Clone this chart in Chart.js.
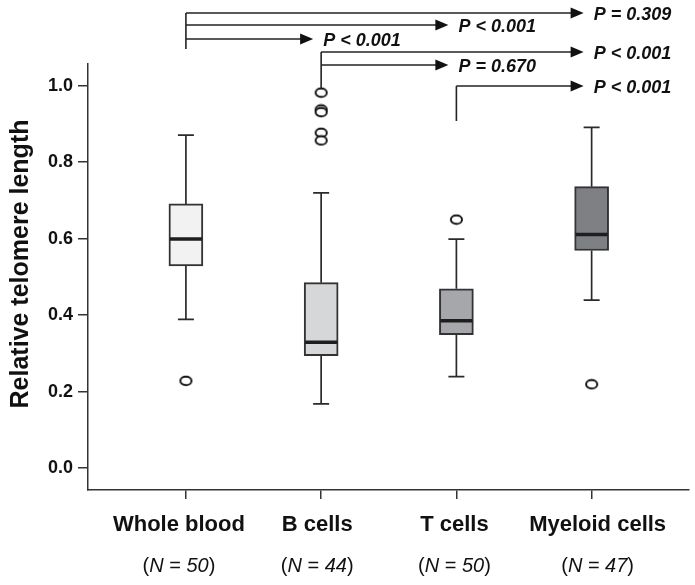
<!DOCTYPE html>
<html>
<head>
<meta charset="utf-8">
<script src="https://cdn.jsdelivr.net/npm/chart.js@4.4.1/dist/chart.umd.min.js"></script>
<style>
  body { margin: 0; background: #fff; }
  #grafico { display: block; }
</style>
</head>
<body>
<canvas id="grafico" width="695" height="585"></canvas>
<script>
// dados
const categorias = ['Whole blood', 'B cells', 'T cells', 'Myeloid cells']
const tamanhos = ['50', '44', '50', '47']
const bigodeBaixo = [0.389, 0.168, 0.239, 0.439]
const q1 = [0.529, 0.294, 0.349, 0.569]
const medianas = [0.599, 0.329, 0.385, 0.611]
const q3 = [0.691, 0.485, 0.469, 0.736]
const bigodeAlto = [0.871, 0.720, 0.599, 0.891]
const outliers = [[0.228], [0.982, 0.938, 0.931, 0.877, 0.857], [0.650], [0.219]]
const yTicks = [0, 0.2, 0.4, 0.6, 0.8, 1.0]

// comparacoes (de -> para, valor de P)
const compDe = [0, 0, 0, 1, 1, 2]
const compPara = [3, 2, 1, 3, 2, 3]
const compP = ['0.309', '< 0.001', '< 0.001', '< 0.001', '0.670', '< 0.001']
const compSinal = ['=', '<', '<', '<', '=', '<']

// layout das setas (pixels)
const linhasSeta = [13, 25, 39, 52, 65, 86]
const hasteFim = [49, 88, 121]
const deslocRotulo = [-7, -4, -2, 6]

const cores = ['#f2f2f2', '#d6d7d9', '#a6a7aa', '#7f8084']
const fonte = '"Liberation Sans", Arial, sans-serif'

// circulo achatado dos outliers
function fazElipse() {
  const c = document.createElement('canvas')
  c.width = 15
  c.height = 12
  const g = c.getContext('2d')
  g.beginPath()
  g.ellipse(7.5, 6, 5.6, 4.3, 0, 0, Math.PI * 2)
  g.fillStyle = '#fff'
  g.fill()
  g.lineWidth = 1.9
  g.strokeStyle = '#111'
  g.stroke()
  return c
}

const pontosOutlier = []
outliers.forEach((lista, i) => {
  lista.forEach(v => pontosOutlier.push({ x: i, y: v }))
})

const extras = {
  id: 'extras',
  beforeDatasetsDraw(chart) {
    const ctx = chart.ctx
    const x = chart.scales.x
    const y = chart.scales.y
    ctx.save()
    ctx.strokeStyle = '#2a2a2a'
    ctx.lineWidth = 1.7
    categorias.forEach((c, i) => {
      const px = x.getPixelForValue(i)
      ctx.beginPath()
      ctx.moveTo(px, y.getPixelForValue(q3[i]))
      ctx.lineTo(px, y.getPixelForValue(bigodeAlto[i]))
      ctx.moveTo(px, y.getPixelForValue(q1[i]))
      ctx.lineTo(px, y.getPixelForValue(bigodeBaixo[i]))
      ctx.moveTo(px - 8, y.getPixelForValue(bigodeAlto[i]))
      ctx.lineTo(px + 8, y.getPixelForValue(bigodeAlto[i]))
      ctx.moveTo(px - 8, y.getPixelForValue(bigodeBaixo[i]))
      ctx.lineTo(px + 8, y.getPixelForValue(bigodeBaixo[i]))
      ctx.stroke()
    })
    ctx.restore()
  },
  afterDatasetsDraw(chart) {
    const ctx = chart.ctx
    const x = chart.scales.x
    const y = chart.scales.y
    ctx.save()
    ctx.strokeStyle = '#1e1e1e'
    ctx.lineWidth = 3.5
    categorias.forEach((c, i) => {
      const px = x.getPixelForValue(i)
      const py = y.getPixelForValue(medianas[i])
      ctx.beginPath()
      ctx.moveTo(px - 16, py)
      ctx.lineTo(px + 16, py)
      ctx.stroke()
    })
    ctx.restore()
  },
  afterDraw(chart) {
    const ctx = chart.ctx
    const x = chart.scales.x
    ctx.save()
    ctx.fillStyle = '#111'

    // titulo do eixo y
    ctx.save()
    ctx.translate(21, 264)
    ctx.rotate(-Math.PI / 2)
    ctx.font = 'bold 25px ' + fonte
    ctx.textAlign = 'center'
    ctx.textBaseline = 'middle'
    ctx.fillText('Relative telomere length', 0, 0)
    ctx.restore()

    // rotulos das categorias
    categorias.forEach((c, i) => {
      const px = x.getPixelForValue(i) + deslocRotulo[i]
      ctx.font = 'bold 22px ' + fonte
      ctx.textAlign = 'center'
      ctx.textBaseline = 'alphabetic'
      ctx.fillText(c, px, 531)

      const partes = [['(', ''], ['N', 'italic '], [' = ', ''], [tamanhos[i], 'italic '], [')', '']]
      let total = 0
      partes.forEach(p => {
        ctx.font = p[1] + '20px ' + fonte
        total += ctx.measureText(p[0]).width
      })
      let cx = px - total / 2
      ctx.textAlign = 'left'
      partes.forEach(p => {
        ctx.font = p[1] + '20px ' + fonte
        ctx.fillText(p[0], cx, 572)
        cx += ctx.measureText(p[0]).width
      })
    })

    // setas com valores de P
    ctx.strokeStyle = '#222'
    ctx.lineWidth = 1.6
    const primeiraLinha = {}
    compDe.forEach((de, k) => {
      if (primeiraLinha[de] === undefined) primeiraLinha[de] = linhasSeta[k]
    })
    Object.keys(primeiraLinha).forEach((de, j) => {
      const px = x.getPixelForValue(Number(de))
      ctx.beginPath()
      ctx.moveTo(px, primeiraLinha[de])
      ctx.lineTo(px, hasteFim[j])
      ctx.stroke()
    })
    compDe.forEach((de, k) => {
      const y0 = linhasSeta[k]
      const x0 = x.getPixelForValue(de)
      const ponta = x.getPixelForValue(compPara[k]) - 8
      ctx.beginPath()
      ctx.moveTo(x0, y0)
      ctx.lineTo(ponta - 10, y0)
      ctx.stroke()
      ctx.beginPath()
      ctx.moveTo(ponta, y0)
      ctx.lineTo(ponta - 13, y0 - 5.5)
      ctx.lineTo(ponta - 13, y0 + 5.5)
      ctx.closePath()
      ctx.fill()

      ctx.font = 'italic bold 18px ' + fonte
      ctx.textAlign = 'left'
      ctx.textBaseline = 'alphabetic'
      const txt = compSinal[k] === '=' ? 'P = ' + compP[k] : 'P ' + compP[k]
      ctx.fillText(txt, ponta + 10, y0 + 6.5)
    })
    ctx.restore()
  }
}

const grafico = new Chart(document.getElementById('grafico'), {
  type: 'bar',
  data: {
    datasets: [
      {
        type: 'bar',
        data: categorias.map((c, i) => ({ x: i, y: [q1[i], q3[i]] })),
        backgroundColor: cores,
        borderColor: '#333',
        borderWidth: 2,
        borderSkipped: false,
        barThickness: 34,
      },
      {
        type: 'scatter',
        data: pontosOutlier,
        pointStyle: fazElipse(),
        pointRadius: 5,
      },
    ],
  },
  options: {
    responsive: false,
    animation: false,
    layout: { padding: { top: 64, right: 6, left: 0, bottom: 0 } },
    plugins: { legend: { display: false }, tooltip: { enabled: false } },
    scales: {
      x: {
        type: 'linear',
        min: -0.724,
        max: 3.72,
        offset: false,
        afterBuildTicks: s => { s.ticks = categorias.map((c, i) => ({ value: i })) },
        afterFit: s => { s.height = 95 },
        ticks: { display: false },
        grid: { offset: false, drawOnChartArea: false, drawTicks: true, tickLength: 9, color: '#333', lineWidth: 1.5 },
        border: { display: true, color: '#333', width: 1.5 },
      },
      y: {
        min: -0.0575,
        max: 1.057,
        afterBuildTicks: s => { s.ticks = yTicks.map(v => ({ value: v })) },
        afterFit: s => { s.width = 88 },
        ticks: {
          callback: v => v.toFixed(1),
          font: { family: fonte, size: 18, weight: 'bold' },
          color: '#111',
          padding: 5,
        },
        grid: { drawOnChartArea: false, drawTicks: true, tickLength: 10, color: '#333', lineWidth: 1.5 },
        border: { display: true, color: '#333', width: 1.5 },
      },
    },
  },
  plugins: [extras],
})
</script>
</body>
</html>
